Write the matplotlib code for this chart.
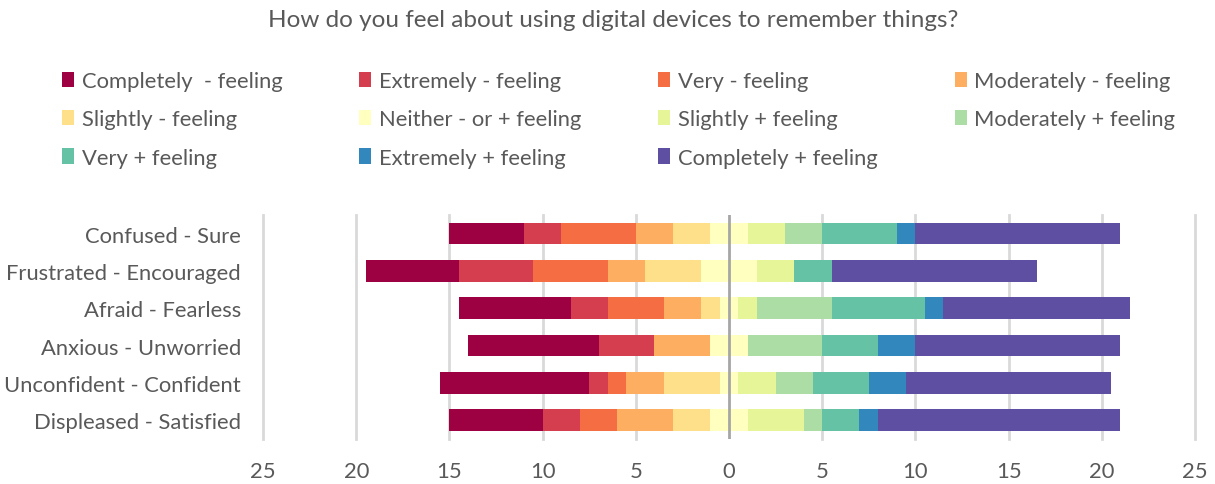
import numpy as np
import matplotlib
matplotlib.use("Agg")
import matplotlib.pyplot as plt
from matplotlib.patches import Patch

plt.rcParams['font.family'] = ['Lato', 'DejaVu Sans']

# categories, top to bottom
pairs = ['Confused - Sure', 'Frustrated - Encouraged', 'Afraid - Fearless',
         'Anxious - Unworried', 'Unconfident - Confident', 'Displeased - Satisfied']

levels = ['Completely  - feeling', 'Extremely - feeling', 'Very - feeling',
          'Moderately - feeling', 'Slightly - feeling', 'Neither - or + feeling',
          'Slightly + feeling', 'Moderately + feeling', 'Very + feeling',
          'Extremely + feeling', 'Completely + feeling']

colors = ['#9e0142', '#d53e4f', '#f46d43', '#fdae61', '#fee08b', '#ffffbf',
          '#e6f598', '#abdda4', '#66c2a5', '#3288bd', '#5e4fa2']

# counts per level (columns follow `levels`)
counts = np.array([
    [4, 2, 4, 2, 2, 2, 2, 2, 4, 1, 11],
    [5, 4, 4, 2, 3, 3, 2, 0, 2, 0, 11],
    [6, 2, 3, 2, 1, 1, 1, 4, 5, 1, 10],
    [7, 3, 0, 3, 0, 2, 0, 4, 3, 2, 11],
    [8, 1, 1, 2, 3, 1, 2, 2, 3, 2, 11],
    [5, 2, 2, 3, 2, 2, 3, 1, 2, 1, 13],
])

tick_vals = [-25, -20, -15, -10, -5, 0, 5, 10, 15, 20, 25]

fig = plt.figure(figsize=(12.15, 4.85), dpi=100)
ax = fig.add_axes([0.2165, 0.0928, 0.767, 0.4619])

y = np.arange(len(pairs))
# neutral block sits centred on zero
start = -(counts[:, :5].sum(axis=1) + counts[:, 5] / 2)
left = start.astype(float)
handles = []
for j, lev in enumerate(levels):
    ax.barh(y, counts[:, j], left=left, height=0.58, color=colors[j], zorder=3)
    left = left + counts[:, j]
    handles.append(Patch(facecolor=colors[j], label=lev))

ax.set_ylim(len(pairs) - 0.5, -0.5)
ax.set_xlim(-25, 25)
ax.set_xticks(tick_vals)
ax.set_xticklabels([str(abs(v)) for v in tick_vals])
ax.set_yticks(y)
ax.set_yticklabels(pairs)

for v in tick_vals:
    if v == 0:
        ax.axvline(v, color='#a6a6a6', lw=2, zorder=4)
    else:
        ax.axvline(v, color='#d9d9d9', lw=2, zorder=1, clip_on=False)

for s in ax.spines.values():
    s.set_visible(False)
ax.tick_params(axis='both', length=0, colors='#595959', labelsize=15.8)
ax.tick_params(axis='x', pad=16)
ax.tick_params(axis='y', pad=16)

fig.text(0.505, 0.957, 'How do you feel about using digital devices to remember things?',
         ha='center', va='center', fontsize=17.5, color='#595959')

# reorder so the 4-column legend reads row by row
order = [0, 4, 8, 1, 5, 9, 2, 6, 10, 3, 7]
leg = fig.legend([handles[i] for i in order], [levels[i] for i in order],
                 ncol=4, loc='upper left', bbox_to_anchor=(0.051, 0.851),
                 borderaxespad=0, borderpad=0,
                 frameon=False, fontsize=15.8, handlelength=0.55, handleheight=0.7,
                 handletextpad=0.35, columnspacing=3.5, labelspacing=0.83,
                 labelcolor='#595959')

fig.savefig('out.png', dpi=100)
